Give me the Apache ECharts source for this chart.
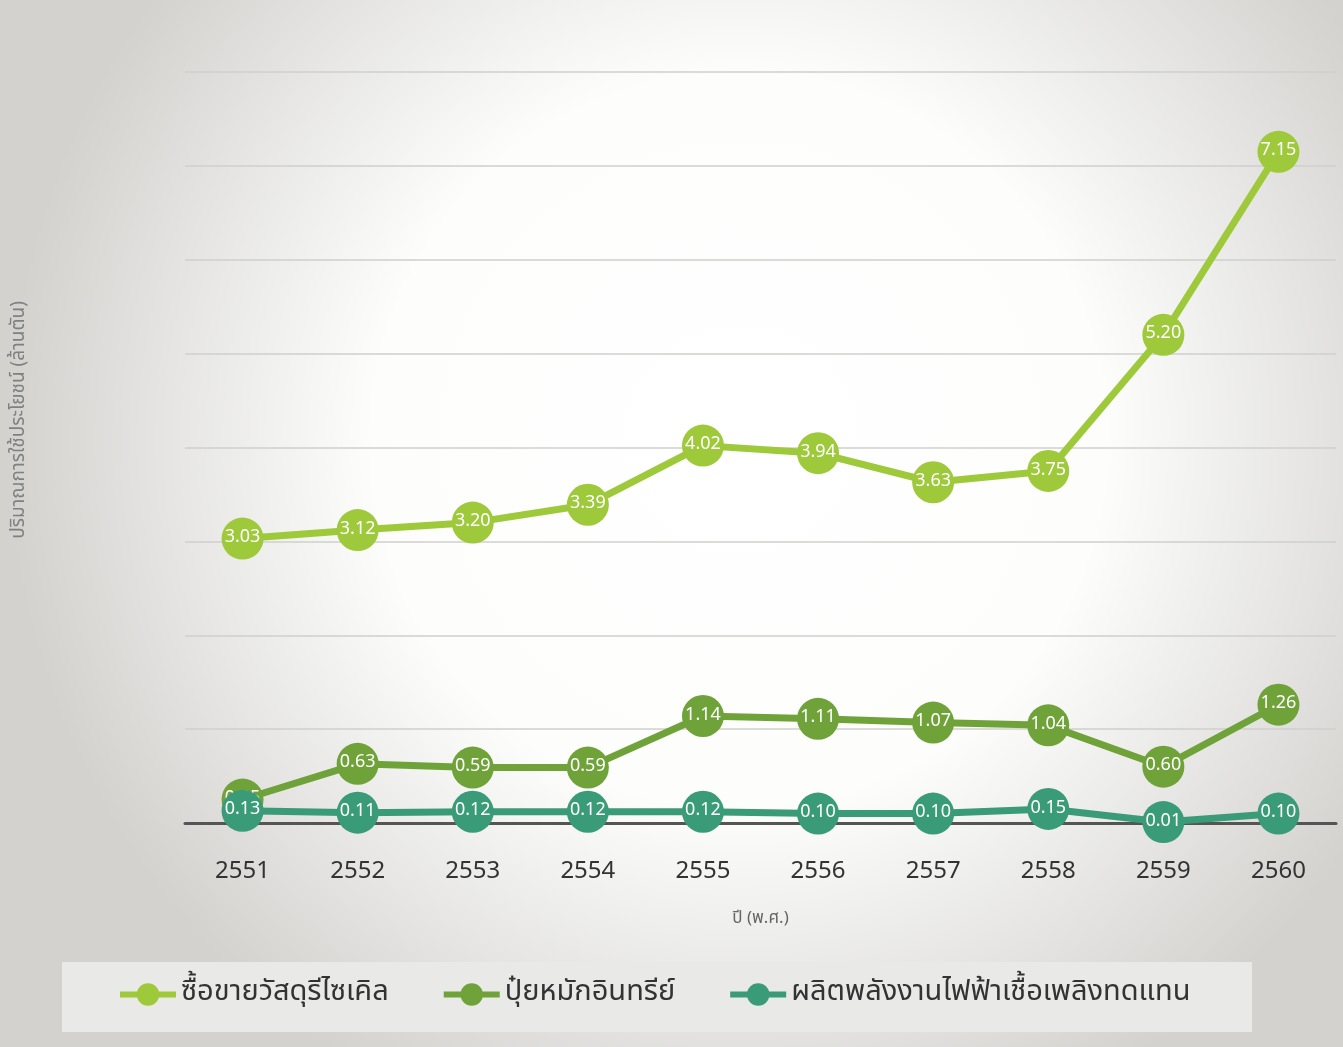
<!DOCTYPE html>
<html><head><meta charset="utf-8">
<script src="https://cdn.jsdelivr.net/npm/echarts@6/dist/echarts.min.js"></script>
<style>html,body{margin:0;padding:0;}#c{width:1343px;height:1047px;}</style>
</head><body><div id="c"></div>
<script>
const years = ['2551','2552','2553','2554','2555','2556','2557','2558','2559','2560'];
const seriesNames = ['ซื้อขายวัสดุรีไซเคิล','ปุ๋ยหมักอินทรีย์','ผลิตพลังงานไฟฟ้าเชื้อเพลิงทดแทน'];
const recycleTrade = [3.03,3.12,3.20,3.39,4.02,3.94,3.63,3.75,5.20,7.15];
const compost = [0.25,0.63,0.59,0.59,1.14,1.11,1.07,1.04,0.60,1.26];
const energy = [0.13,0.11,0.12,0.12,0.12,0.10,0.10,0.15,0.01,0.10];
const yAxisName = 'ปริมาณการใช้ประโยชน์ (ล้านตัน)';
const xAxisName = 'ปี (พ.ศ.)';

const colors = ['#9dc93b','#6fa33a','#3a9b78'];
const font = '"Noto Sans Thai","Noto Sans","DejaVu Sans",sans-serif';

function mk(name, data, color, z){
  return {
    name, type:'line', data, z,
    symbol:'circle', symbolSize:42,
    lineStyle:{color, width:7},
    itemStyle:{color},
    label:{show:true, position:'inside', color:'#fff', fontSize:18, fontFamily:font,
      formatter:p=>p.value.toFixed(2)},
    emphasis:{disabled:true}
  };
}

const chart = echarts.init(document.getElementById('c'));
chart.setOption({
  animation:false,
  backgroundColor:{type:'radial', x:0.55, y:0.42, r:0.7,
    colorStops:[{offset:0,color:'#ffffff'},{offset:0.5,color:'#fdfdfc'},{offset:1,color:'#d3d2cf'}]},
  color:colors,
  grid:{left:185, right:7, top:72, bottom:224, containLabel:false},
  graphic:[
    {type:'rect', left:62, top:962, shape:{width:1190, height:70}, style:{fill:'#e9e9e7'}, z:-1},
    {type:'text', x:20, y:420, rotation:Math.PI/2, style:{text:yAxisName, fill:'#808080', fontSize:19, fontFamily:font, align:'center', verticalAlign:'middle'}}
  ],
  legend:{
    left:117, top:980, padding:0, itemWidth:56, itemHeight:28, itemGap:52,
    lineStyle:{width:6},
    textStyle:{fontSize:29, color:'#333', fontFamily:font},
    data:seriesNames
  },
  xAxis:{
    type:'category', data:years, boundaryGap:true,
    name:xAxisName, nameLocation:'middle', nameGap:88,
    nameTextStyle:{fontSize:17, color:'#666', fontFamily:font},
    axisLine:{lineStyle:{color:'#555', width:3}},
    axisTick:{show:false},
    axisLabel:{fontSize:24, color:'#333', margin:38, fontFamily:font}
  },
  yAxis:{
    type:'value', min:0, max:8, interval:1,
    axisLabel:{show:false}, axisLine:{show:false}, axisTick:{show:false},
    splitLine:{lineStyle:{color:'#cfcfcd', width:1.5}}
  },
  series:[
    mk(seriesNames[0], recycleTrade, colors[0], 3),
    mk(seriesNames[1], compost, colors[1], 4),
    mk(seriesNames[2], energy, colors[2], 5)
  ]
});
</script></body></html>
